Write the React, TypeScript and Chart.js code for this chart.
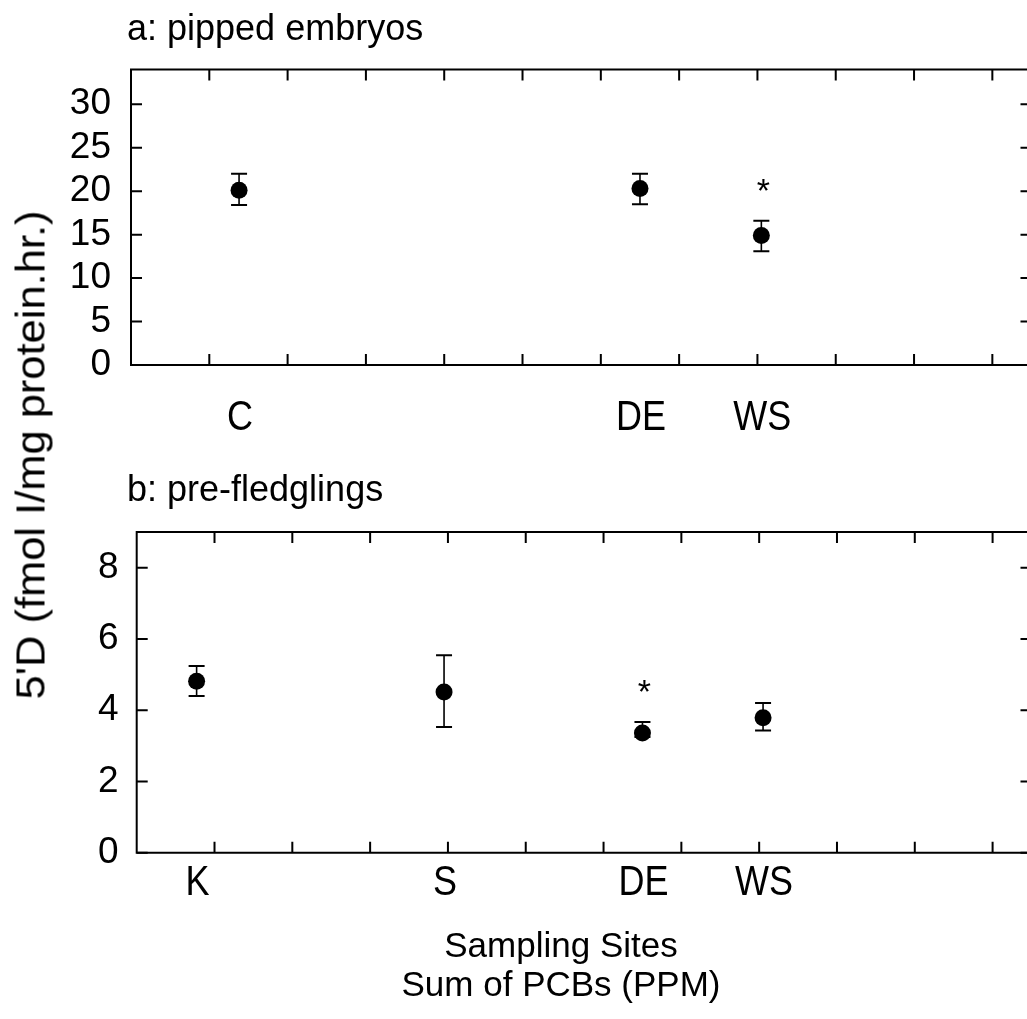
import React, { useEffect, useRef } from 'react';
import { Chart, registerables } from 'chart.js';

Chart.register(...registerables);

const FONT = "'Liberation Sans', Arial, Helvetica, sans-serif";

// ---- Panel a: pipped embryos ----
const sitesA = ['C', 'DE', 'WS'];
const pcbA = [1.38, 6.5, 8.05];
const meanA = [20.1, 20.3, 14.9];
const lowA = [18.4, 18.5, 13.1];
const highA = [22.0, 22.0, 16.6];
const sigA = [false, false, true];
const yTicksA = [0, 5, 10, 15, 20, 25, 30];

// ---- Panel b: pre-fledglings ----
const sitesB = ['K', 'S', 'DE', 'WS'];
const pcbB = [0.77, 3.95, 6.5, 8.05];
const meanB = [4.81, 4.51, 3.36, 3.79];
const lowB = [4.4, 3.53, 3.25, 3.43];
const highB = [5.24, 5.54, 3.67, 4.2];
const sigB = [false, false, true, false];
const yTicksB = [0, 2, 4, 6, 8];

const xTicks = [1, 2, 3, 4, 5, 6, 7, 8, 9, 10, 11];

type PanelCfg = {
  title: string;
  sites: string[];
  pcb: number[];
  mean: number[];
  low: number[];
  high: number[];
  sig: boolean[];
  yTicks: number[];
  yMax: number;
  width: number;
  height: number;
  top: number;
  left: number;
  xAxisH: number;
  labelPad: number;
  titleY: number;
  catOffset: number;
  xTitle?: string[];
};

const TL = 11;

function stretchedText(ctx: any, text: string, x: number, y: number, sy: number) {
  ctx.save();
  ctx.translate(x, y);
  ctx.scale(1, sy);
  ctx.fillText(text, 0, 0);
  ctx.restore();
}

function makePlugin(cfg: PanelCfg) {
  return {
    id: 'frame',
    beforeDatasetsDraw(chart: any) {
      const { ctx, chartArea: a, scales } = chart;
      const x = scales.x;
      const y = scales.y;
      ctx.save();
      ctx.strokeStyle = '#000';
      ctx.lineWidth = 2;
      ctx.beginPath();
      ctx.moveTo(a.left, a.top);
      ctx.lineTo(a.right, a.top);
      ctx.lineTo(a.right, a.bottom);
      ctx.lineTo(a.left, a.bottom);
      ctx.closePath();
      ctx.stroke();
      ctx.beginPath();
      xTicks.forEach((v) => {
        const px = x.getPixelForValue(v);
        ctx.moveTo(px, a.bottom);
        ctx.lineTo(px, a.bottom - TL);
        ctx.moveTo(px, a.top);
        ctx.lineTo(px, a.top + TL);
      });
      cfg.yTicks.forEach((v) => {
        const py = y.getPixelForValue(v);
        ctx.moveTo(a.left, py);
        ctx.lineTo(a.left + TL, py);
        ctx.moveTo(a.right, py);
        ctx.lineTo(a.right - TL, py);
      });
      ctx.stroke();
      // error bars
      cfg.pcb.forEach((v, i) => {
        const px = x.getPixelForValue(v);
        const pl = y.getPixelForValue(cfg.low[i]);
        const ph = y.getPixelForValue(cfg.high[i]);
        ctx.lineWidth = 1.6;
        ctx.beginPath();
        ctx.moveTo(px, pl);
        ctx.lineTo(px, ph);
        ctx.stroke();
        ctx.lineWidth = 2;
        ctx.beginPath();
        ctx.moveTo(px - 8, pl);
        ctx.lineTo(px + 8, pl);
        ctx.moveTo(px - 8, ph);
        ctx.lineTo(px + 8, ph);
        ctx.stroke();
      });
      ctx.restore();
    },
    afterDatasetsDraw(chart: any) {
      const { ctx, chartArea: a, scales } = chart;
      const x = scales.x;
      const y = scales.y;
      ctx.save();
      ctx.fillStyle = '#000';
      // asterisks
      ctx.font = `34px ${FONT}`;
      ctx.textAlign = 'center';
      ctx.textBaseline = 'middle';
      cfg.pcb.forEach((v, i) => {
        if (!cfg.sig[i]) return;
        const px = x.getPixelForValue(v);
        const ph = y.getPixelForValue(cfg.high[i]);
        ctx.fillText('*', px + 2, ph - 28);
      });
      // site labels
      ctx.font = `36px ${FONT}`;
      cfg.pcb.forEach((v, i) => {
        const px = x.getPixelForValue(v);
        stretchedText(ctx, cfg.sites[i], px + 1, a.bottom + cfg.catOffset, 1.16);
      });
      // panel title
      ctx.font = `36px ${FONT}`;
      ctx.textAlign = 'left';
      ctx.fillText(cfg.title, 127, cfg.titleY);
      // x title
      if (cfg.xTitle) {
        ctx.textAlign = 'center';
        ctx.font = `35px ${FONT}`;
        cfg.xTitle.forEach((t, k) => {
          ctx.fillText(t, 561, a.bottom + 95 + k * 39);
        });
      }
      ctx.restore();
    },
  };
}

function Panel({ cfg, top }: { cfg: PanelCfg; top: number }) {
  const ref = useRef<HTMLCanvasElement>(null);
  useEffect(() => {
    if (!ref.current) return;
    const chart = new Chart(ref.current, {
      type: 'scatter',
      data: {
        datasets: [
          {
            data: cfg.pcb.map((v, i) => ({ x: v, y: cfg.mean[i] })),
            pointRadius: 8.5,
            pointHoverRadius: 8.5,
            backgroundColor: '#000',
            borderColor: '#000',
            borderWidth: 0,
            showLine: false,
          },
        ],
      },
      options: {
        animation: false,
        responsive: false,
        devicePixelRatio: 1,
        events: [],
        layout: { padding: { left: 0, right: 8, top: cfg.top, bottom: 0 } },
        plugins: { legend: { display: false }, tooltip: { enabled: false }, title: { display: false } },
        scales: {
          x: {
            type: 'linear',
            min: 0,
            max: 11.5,
            ticks: { display: false },
            grid: { display: false, drawTicks: false },
            border: { display: false },
            afterFit: (s: any) => {
              s.height = cfg.xAxisH;
            },
          },
          y: {
            type: 'linear',
            min: 0,
            max: cfg.yMax,
            afterBuildTicks: (s: any) => {
              s.ticks = cfg.yTicks.map((v) => ({ value: v }));
            },
            ticks: {
              color: '#000',
              font: { size: 37, family: FONT },
              padding: cfg.labelPad,
            },
            grid: { display: false, drawTicks: false },
            border: { display: false },
            afterFit: (s: any) => {
              s.width = cfg.left;
            },
          },
        },
      },
      plugins: [makePlugin(cfg)],
    } as any);
    return () => chart.destroy();
  }, []);
  return (
    <canvas
      ref={ref}
      width={cfg.width}
      height={cfg.height}
      style={{ position: 'absolute', left: 0, top, width: cfg.width, height: cfg.height }}
    />
  );
}

const panelA: PanelCfg = {
  title: 'a: pipped embryos',
  sites: sitesA,
  pcb: pcbA,
  mean: meanA,
  low: lowA,
  high: highA,
  sig: sigA,
  yTicks: yTicksA,
  yMax: 34,
  width: 1040,
  height: 450,
  top: 69.5,
  left: 131,
  xAxisH: 85,
  labelPad: 20,
  titleY: 30,
  catOffset: 53,
};

const panelB: PanelCfg = {
  title: 'b: pre-fledglings',
  sites: sitesB,
  pcb: pcbB,
  mean: meanB,
  low: lowB,
  high: highB,
  sig: sigB,
  yTicks: yTicksB,
  yMax: 9,
  width: 1040,
  height: 569,
  top: 82,
  left: 136.7,
  xAxisH: 166.3,
  labelPad: 18,
  titleY: 41,
  catOffset: 31,
  xTitle: ['Sampling Sites', 'Sum of PCBs (PPM)'],
};

export default function App() {
  return (
    <div
      style={{
        position: 'absolute',
        left: 0,
        top: 0,
        width: 1027,
        height: 1019,
        overflow: 'hidden',
        background: '#fff',
        fontFamily: FONT,
      }}
    >
      <Panel cfg={panelA} top={0} />
      <Panel cfg={panelB} top={450} />
      <div
        style={{
          position: 'absolute',
          left: 31,
          top: 455,
          transform: 'translate(-50%, -50%) rotate(-90deg) scaleX(1.06)',
          whiteSpace: 'nowrap',
          fontSize: 41,
          lineHeight: 1,
          color: '#000',
        }}
      >
        5'D (fmol I/mg protein.hr.)
      </div>
    </div>
  );
}
